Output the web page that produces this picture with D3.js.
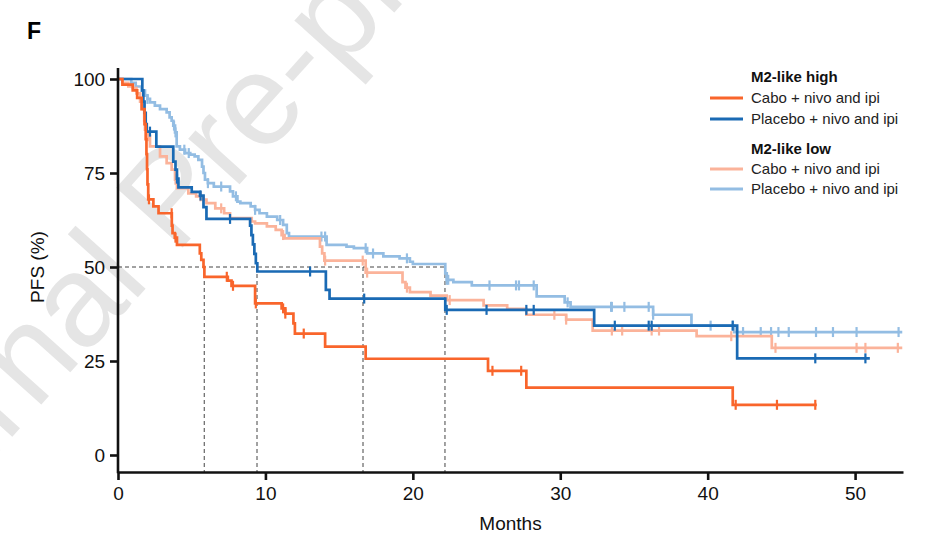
<!DOCTYPE html>
<html>
<head>
<meta charset="utf-8">
<script src="https://cdn.jsdelivr.net/npm/d3@7"></script>
<style>
body{margin:0;background:#fff;}
text{font-family:"Liberation Sans",Arial,sans-serif;}
</style>
</head>
<body>
<svg id="chart" width="944" height="548"></svg>
<script>
// ---- data (months, PFS %) ----
var xTicks=[0,10,20,30,40,50];
var yTicks=[0,25,50,75,100];
var medians=[5.85,9.43,16.62,22.18];

// M2-like high, cabo + nivo and ipi
var highCabo=[[0,100],[0.3,98.5],[1.0,97],[1.3,95],[1.6,92],[1.8,88],[1.88,84],[1.93,80],[1.97,76],[2.0,72],[2.05,68],
	[2.4,66.1],[2.75,64.3],[3.65,61],[3.7,59],[3.85,57.8],[4.0,55.9],[5.55,53.6],[5.65,51.9],[5.8,50],[5.86,47.4],
	[7.45,46.4],[7.7,45],[9.3,40.3],[11.1,39],[11.35,37.6],[11.9,35],[12.0,32.3],[14.05,28.8],[16.8,25.6],
	[25.1,22.4],[27.7,17.9],[41.7,13.35]];
var highCaboEnd=47.4;
var highCaboCens=[2.1,3.64,3.9,7.38,7.8,9.35,11.2,11.35,12.6,25.4,27.35,41.9,44.7,47.3];

// M2-like high, placebo + nivo and ipi
var highPlac=[[0,100],[1.65,97],[1.72,94],[1.8,91],[1.88,88],[1.95,86],[2.6,82],[3.75,78],[3.9,75.9],[4.0,73.5],
	[4.1,71.2],[5.0,70],[5.56,69],[5.8,65.9],[6.0,62.8],[8.96,61],[9.05,58.5],[9.15,56],[9.25,53.5],[9.35,51],
	[9.45,48.8],[14.1,43.9],[14.35,41.6],[22.2,38.6],[32.3,34.4],[42.0,25.7]];
var highPlacEnd=51.0;
var highPlacCens=[2.17,4.0,5.6,7.6,13.03,16.7,22.3,25.0,27.7,28.2,33.7,36.0,36.2,41.7,47.3,50.7];

// M2-like low, cabo + nivo and ipi
var lowCabo=[[0,100],[0.3,99],[0.7,98],[1.0,97.6],[1.25,96.2],[1.5,94],[1.7,92],[1.78,89],[1.83,86.5],[1.95,84.8],
	[2.17,82.1],[2.85,79.4],[3.3,77.6],[3.64,75.9],[3.87,73.2],[4.0,71],[4.77,69.6],[5.3,68.8],[5.8,67.9],[6.0,67],
	[6.6,65.6],[7.2,64.3],[7.6,63],[9.07,62.1],[9.3,61.6],[10.1,60.8],[10.7,59.9],[11.1,58.5],[11.3,57.6],
	[13.7,55.4],[13.85,53.6],[14.0,51.7],[16.8,48.5],[19.3,46],[19.5,44.5],[19.8,43.3],[21.2,42.4],[22.3,41.2],
	[24.8,39.8],[26.4,38.9],[27.7,37.3],[30.4,36.0],[32.2,33.1],[39.25,31.6],[44.35,28.5]];
var lowCaboEnd=53.2;
var lowCaboCens=[2.0,2.1,3.9,5.6,7.0,11.2,14.05,16.6,16.9,19.6,22.5,29.6,30.4,33.5,34.2,36.2,36.7,41.6,44.6,50.1,50.7,52.9];

// M2-like low, placebo + nivo and ipi
var lowPlac=[[0,100],[0.9,99],[1.2,98],[1.6,96.9],[1.83,95.6],[2.0,94.7],[2.17,93.8],[2.5,92.9],[2.85,92],[3.3,91.1],
	[3.5,89.8],[3.64,88.9],[3.75,87.6],[3.87,85.8],[3.98,82.1],[4.2,81.2],[4.55,80.3],[4.9,79.9],[5.2,79.4],[5.45,78.5],
	[5.7,76.7],[5.8,75],[5.9,73.2],[6.1,72.3],[6.5,71.4],[7.6,70.1],[7.8,68.8],[8.1,67.4],[8.3,67],[9.0,66.1],
	[9.3,65.2],[9.6,64.3],[10.1,63.4],[10.8,62.5],[11.2,61.2],[11.45,59],[11.6,58.1],[14.15,55.9],[15.5,55.4],
	[16.0,55],[16.9,53.6],[18.0,52.8],[19.1,52.3],[19.8,51.4],[20.0,50.8],[22.2,48.3],[22.3,46.6],[22.75,46],
	[24.0,45.1],[28.4,42.2],[30.3,40.6],[30.7,39.4],[36.3,37.3],[38.9,34.4],[41.8,32.7]];
var lowPlacEnd=53.2;
var lowPlacCens=[2.0,3.8,3.9,4.5,4.8,6.1,7.0,8.0,9.3,11.0,13.8,14.05,16.8,17.3,19.6,22.3,22.4,25.2,27.0,27.2,28.2,
	30.5,33.45,33.5,34.35,36.0,36.3,40.2,41.7,42.4,43.6,44.3,44.8,45.5,47.35,48.5,50.1,52.95];

var legendGroups=["M2-like high","M2-like low"];
var legendLabels=["Cabo + nivo and ipi","Placebo + nivo and ipi"];

var series=[
	{name:"low placebo",steps:lowPlac,end:lowPlacEnd,cens:lowPlacCens,color:"#93bde3"},
	{name:"low cabo",steps:lowCabo,end:lowCaboEnd,cens:lowCaboCens,color:"#fbb39a"},
	{name:"high placebo",steps:highPlac,end:highPlacEnd,cens:highPlacCens,color:"#1a6ab4"},
	{name:"high cabo",steps:highCabo,end:highCaboEnd,cens:highCaboCens,color:"#f9652b"}
];

var svg=d3.select("#chart");

// watermark
svg.append("text").attr("transform","translate(202,226) rotate(-48)")
	.attr("text-anchor","middle").attr("font-size",130).attr("fill","#e5e5e5")
	.text("Journal Pre-proof");

var x=d3.scaleLinear().domain([0,53.25]).range([118,903]);
var y=d3.scaleLinear().domain([0,100]).range([455,79]);
var axisY=472;

// panel letter
svg.append("text").attr("x",27).attr("y",39).attr("font-size",23).attr("font-weight","bold").text("F");

// median guides
var g=svg.append("g").attr("stroke","#444").attr("stroke-width",1).attr("stroke-dasharray","4,3").attr("fill","none");
g.append("line").attr("x1",x(0)).attr("x2",x(d3.max(medians))).attr("y1",y(50)).attr("y2",y(50));
medians.forEach(function(m){
	g.append("line").attr("x1",x(m)).attr("x2",x(m)).attr("y1",y(50)).attr("y2",axisY);
});

// curves
var line=d3.line().x(function(d){return x(d[0]);}).y(function(d){return y(d[1]);}).curve(d3.curveStepAfter);
function valueAt(steps,t){
	var v=steps[0][1];
	steps.forEach(function(s){ if(s[0]<=t) v=s[1]; });
	return v;
}
series.forEach(function(s){
	var pts=s.steps.concat([[s.end,s.steps[s.steps.length-1][1]]]);
	var sg=svg.append("g");
	sg.append("path").attr("d",line(pts)).attr("fill","none").attr("stroke",s.color).attr("stroke-width",2.7);
	sg.selectAll("line").data(s.cens).enter().append("line")
		.attr("x1",function(c){return x(c);}).attr("x2",function(c){return x(c);})
		.attr("y1",function(c){return y(valueAt(s.steps,c))-5;})
		.attr("y2",function(c){return y(valueAt(s.steps,c))+5;})
		.attr("stroke",s.color).attr("stroke-width",2.2);
});

// axes
var xa=svg.append("g").attr("transform","translate(0,"+axisY+")")
	.call(d3.axisBottom(x).tickValues(xTicks).tickSize(8).tickSizeOuter(0));
var ya=svg.append("g").attr("transform","translate("+x(0)+",0)")
	.call(d3.axisLeft(y).tickValues(yTicks).tickSize(8).tickSizeOuter(0));
ya.select(".domain").remove();
svg.append("line").attr("x1",x(0)).attr("x2",x(0)).attr("y1",68).attr("y2",axisY+1.2)
	.attr("stroke","#111").attr("stroke-width",2.6);
[xa,ya].forEach(function(a){
	a.selectAll("path,line").attr("stroke","#111").attr("stroke-width",2.6);
	a.selectAll("text").attr("font-size",19).attr("fill","#111")
		.attr("font-family","'Liberation Sans',Arial,sans-serif");
});
xa.selectAll("text").attr("dy","0.9em");
ya.selectAll("text").attr("dx","-0.1em");

svg.append("text").attr("x",(x(0)+x(53.25))/2+0).attr("y",530).attr("text-anchor","middle")
	.attr("font-size",19).attr("fill","#111").text("Months");
svg.append("text").attr("transform","translate(44,"+y(50)+") rotate(-90)").attr("text-anchor","middle")
	.attr("font-size",19).attr("fill","#111").text("PFS (%)");

// legend
var leg=svg.append("g");
var rowsY=[[77,98,119],[149,169,189]];
legendGroups.forEach(function(gname,gi){
	leg.append("text").attr("x",751).attr("y",rowsY[gi][0]).attr("dy","0.35em")
		.attr("font-size",15).attr("font-weight","bold").attr("fill","#111").text(gname);
	legendLabels.forEach(function(lab,li){
		var s=series[gi===0?3-li:1-li];
		var yy=rowsY[gi][li+1];
		leg.append("line").attr("x1",710).attr("x2",743).attr("y1",yy).attr("y2",yy)
			.attr("stroke",s.color).attr("stroke-width",3);
		leg.append("text").attr("x",751).attr("y",yy).attr("dy","0.35em")
			.attr("font-size",15).attr("fill","#222").text(lab);
	});
});
</script>
</body>
</html>
